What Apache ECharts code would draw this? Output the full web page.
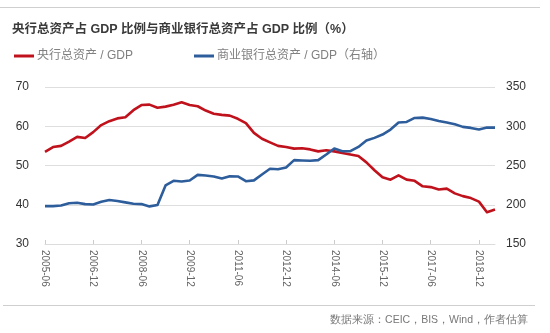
<!DOCTYPE html>
<html>
<head>
<meta charset="utf-8">
<script src="https://cdn.jsdelivr.net/npm/echarts@6/dist/echarts.min.js"></script>
<style>html,body{margin:0;padding:0;background:#fff;}#c{width:550px;height:333px;}</style>
</head>
<body>
<div id="c"></div>
<script>
var categories = ["2005-06","2005-09","2005-12","2006-03","2006-06","2006-09","2006-12","2007-03","2007-06","2007-09","2007-12","2008-03","2008-06","2008-09","2008-12","2009-03","2009-06","2009-09","2009-12","2010-03","2010-06","2010-09","2010-12","2011-03","2011-06","2011-09","2011-12","2012-03","2012-06","2012-09","2012-12","2013-03","2013-06","2013-09","2013-12","2014-03","2014-06","2014-09","2014-12","2015-03","2015-06","2015-09","2015-12","2016-03","2016-06","2016-09","2016-12","2017-03","2017-06","2017-09","2017-12","2018-03","2018-06","2018-09","2018-12","2019-03","2019-06"];
var centralBank = [53.5,54.7,55.0,56.1,57.3,57.0,58.5,60.3,61.3,62.0,62.3,64.1,65.4,65.5,64.7,65.0,65.5,66.1,65.4,65.1,64.0,63.2,62.9,62.7,61.9,60.8,58.3,56.8,55.9,55.0,54.7,54.3,54.4,54.1,53.6,53.9,53.6,53.2,52.8,52.4,50.8,48.8,47.0,46.4,47.5,46.4,46.1,44.7,44.5,43.9,44.1,42.9,42.2,41.7,40.8,38.1,38.8];
var commercialBanks = [198.3,198.3,199,202,202.5,200.8,200.4,203.8,206,204.7,203,201.3,200.8,197.9,199.6,224.6,230.5,229.7,230.9,238.1,237.3,236,233.5,236.4,236,230,231,238.6,245.8,245.3,247.5,256.8,256.4,256,256.8,264,271.6,268.2,268.2,273.7,281.8,285.2,289.4,295.8,304.7,305.5,310.6,311,309.3,306.8,304.7,302.5,299.2,297.9,295.8,298.3,298.3];
var titleText = "央行总资产占 GDP 比例与商业银行总资产占 GDP 比例（%）";
var name1 = "央行总资产 / GDP";
var name2 = "商业银行总资产 / GDP（右轴）";
var sourceText = "数据来源：CEIC，BIS，Wind，作者估算";

var FONT = "'Liberation Sans','Noto Sans CJK SC',sans-serif";
var RED = "#c0121c", BLUE = "#2e5d9c";
var chart = echarts.init(document.getElementById('c'), null, {renderer:'canvas'});
chart.setOption({
  backgroundColor: '#fff',
  animation: false,
  textStyle: {fontFamily: FONT},
  title: {
    text: titleText, left: 7, top: 18,
    textStyle: {fontSize: 12.5, fontWeight: 'bold', color: '#3a3a3a', fontFamily: FONT}
  },
  legend: [
    {data: [name1], left: 9, top: 45, itemWidth: 20, itemHeight: 3, icon: 'rect', itemGap: 0,
     textStyle: {fontSize: 12, color: '#808080', fontFamily: FONT, padding: [0,0,0,-2]}},
    {data: [name2], left: 189, top: 45, itemWidth: 20, itemHeight: 3, icon: 'rect', itemGap: 0,
     textStyle: {fontSize: 12, color: '#808080', fontFamily: FONT, padding: [0,0,0,-2]}}
  ],
  graphic: [
    {type: 'line', shape: {x1: 0, y1: 7.5, x2: 540, y2: 7.5}, style: {stroke: '#cfcfcf', lineWidth: 1}},
    {type: 'line', shape: {x1: 3, y1: 305.5, x2: 535, y2: 305.5}, style: {stroke: '#cfcfcf', lineWidth: 1}},
    {type: 'text', right: 22, top: 315, style: {text: sourceText, fontSize: 10.5, fill: '#777', font: '10.5px ' + FONT}}
  ],
  grid: {left: 45, right: 55, top: 87, bottom: 89, containLabel: false},
  xAxis: {
    type: 'category', data: categories, boundaryGap: false,
    axisLine: {lineStyle: {color: '#dcdcdc', width: 1}},
    axisTick: {show: true, interval: 5, inside: true, length: 4, lineStyle: {color: '#ccc'}},
    axisLabel: {interval: 5, rotate: -90, fontSize: 10, color: '#666', margin: 6, fontFamily: FONT},
    splitLine: {show: false}
  },
  yAxis: [
    {type: 'value', min: 30, max: 70, interval: 10, position: 'left',
     axisLine: {show: false}, axisTick: {show: false},
     axisLabel: {fontSize: 12, color: '#333', margin: 16, fontFamily: FONT},
     splitLine: {lineStyle: {color: '#dedede', width: 1}}},
    {type: 'value', min: 150, max: 350, interval: 50, position: 'right',
     axisLine: {show: false}, axisTick: {show: false},
     axisLabel: {fontSize: 12, color: '#333', margin: 11, fontFamily: FONT},
     splitLine: {show: false}}
  ],
  series: [
    {name: name1, type: 'line', yAxisIndex: 0, data: centralBank, showSymbol: false, symbol: 'none',
     lineStyle: {color: RED, width: 2.6, join: 'round'}, itemStyle: {color: RED}},
    {name: name2, type: 'line', yAxisIndex: 1, data: commercialBanks, showSymbol: false, symbol: 'none',
     lineStyle: {color: BLUE, width: 2.6, join: 'round'}, itemStyle: {color: BLUE}}
  ]
});
</script>
</body>
</html>
